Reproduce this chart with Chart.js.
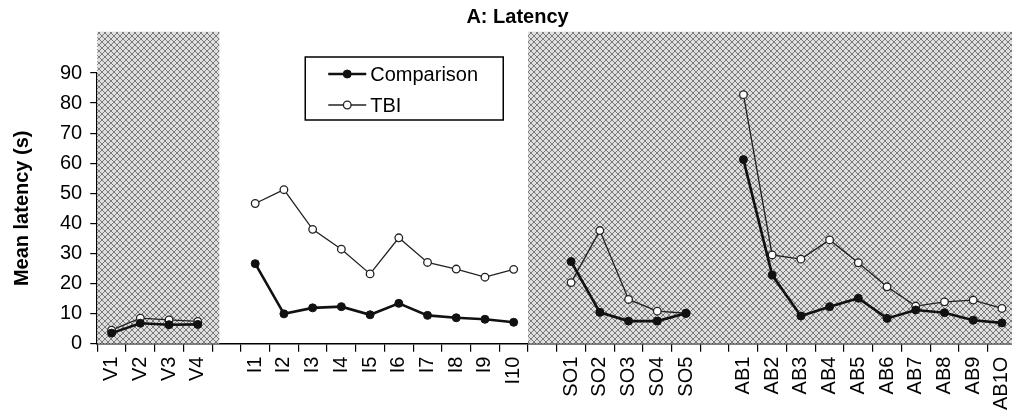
<!DOCTYPE html>
<html>
<head>
<meta charset="utf-8">
<script src="https://cdn.jsdelivr.net/npm/chart.js@4/dist/chart.umd.min.js"></script>
<style>
  html, body { margin: 0; padding: 0; background: #fff; overflow: hidden; }
  #wrap { width: 1031px; height: 417px; }
</style>
</head>
<body>
<div id="wrap"><canvas id="chart"></canvas></div>
<script>
// phase labels
const vLabels = ['V1', 'V2', 'V3', 'V4'];
const iLabels = ['I1', 'I2', 'I3', 'I4', 'I5', 'I6', 'I7', 'I8', 'I9', 'I10'];
const soLabels = ['SO1', 'SO2', 'SO3', 'SO4', 'SO5'];
const abLabels = ['AB1', 'AB2', 'AB3', 'AB4', 'AB5', 'AB6', 'AB7', 'AB8', 'AB9', 'AB1O'];

// mean latency (s)
const comparisonV = [3.5, 6.8, 6.3, 6.4];
const tbiV = [4.5, 8.5, 7.9, 7.4];
const comparisonI = [26.6, 9.9, 11.9, 12.3, 9.6, 13.4, 9.4, 8.6, 8.1, 7.1];
const tbiI = [46.6, 51.2, 38.0, 31.4, 23.2, 35.2, 27.0, 24.8, 22.1, 24.7];
const comparisonSO = [27.3, 10.4, 7.5, 7.5, 10.1];
const tbiSO = [20.3, 37.6, 14.7, 10.8, 10.1];
const comparisonAB = [61.2, 22.8, 9.2, 12.3, 15.1, 8.4, 11.2, 10.3, 7.8, 6.9];
const tbiAB = [82.8, 29.5, 28.1, 34.5, 26.9, 18.9, 12.5, 13.9, 14.5, 11.7];

// one empty slot between phases, lines break there
const labels = [...vLabels, '', ...iLabels, '', ...soLabels, '', ...abLabels];
const joinPhases = (a, b, c, d) => [...a, null, ...b, null, ...c, null, ...d];
const comparison = joinPhases(comparisonV, comparisonI, comparisonSO, comparisonAB);
const tbi = joinPhases(tbiV, tbiI, tbiSO, tbiAB);

// shaded (baseline / follow-up) blocks, in category units
const shadedBlocks = [[-0.5, 3.75], [14.5, 31.5]];

const FONT = '"Liberation Sans", Arial, Helvetica, sans-serif';
Chart.defaults.font.family = FONT;
Chart.defaults.color = '#000';

function makeHatch(ctx) {
  const c = document.createElement('canvas');
  c.width = c.height = 6;
  const g = c.getContext('2d');
  g.fillStyle = '#dedede';
  g.fillRect(0, 0, 6, 6);
  g.strokeStyle = '#7a7a7a';
  g.lineWidth = 1;
  g.beginPath();
  g.moveTo(0, 0); g.lineTo(6, 6);
  g.moveTo(6, 0); g.lineTo(0, 6);
  g.stroke();
  return ctx.createPattern(c, 'repeat');
}

const shading = {
  id: 'shading',
  beforeDatasetsDraw(chart, args, opts) {
    const { ctx, scales: { x, y } } = chart;
    const top = y.getPixelForValue(opts.topValue);
    const bottom = y.getPixelForValue(0);
    ctx.save();
    ctx.fillStyle = makeHatch(ctx);
    shadedBlocks.forEach(([a, b]) => {
      const x0 = x.getPixelForValue(a);
      const x1 = x.getPixelForValue(b);
      ctx.fillRect(x0, top, x1 - x0, bottom - top);
    });
    ctx.restore();
  }
};

const boxLegend = {
  id: 'boxLegend',
  afterDatasetsDraw(chart, args, opts) {
    const { ctx, chartArea } = chart;
    const left = chartArea.left + opts.dx;
    const top = chartArea.top + opts.dy;
    ctx.save();
    ctx.fillStyle = '#fff';
    ctx.fillRect(left, top, opts.width, opts.height);
    ctx.strokeStyle = '#000';
    ctx.lineWidth = 1.5;
    ctx.strokeRect(left, top, opts.width, opts.height);
    ctx.font = '20px ' + FONT;
    ctx.textBaseline = 'middle';
    chart.data.datasets.forEach((ds, i) => {
      const yy = top + opts.firstRow + i * opts.rowGap;
      const x0 = left + 23, x1 = left + 61;
      ctx.strokeStyle = ds.borderColor;
      ctx.lineWidth = ds.borderWidth;
      ctx.beginPath();
      ctx.moveTo(x0, yy); ctx.lineTo(x1, yy);
      ctx.stroke();
      ctx.beginPath();
      ctx.arc((x0 + x1) / 2, yy, ds.pointRadius, 0, Math.PI * 2);
      ctx.fillStyle = ds.pointBackgroundColor;
      ctx.fill();
      ctx.lineWidth = ds.pointBorderWidth;
      ctx.strokeStyle = ds.pointBorderColor;
      ctx.stroke();
      ctx.fillStyle = '#000';
      ctx.fillText(ds.label, left + 65, yy + 1);
    });
    ctx.restore();
  }
};

new Chart(document.getElementById('chart'), {
  type: 'line',
  data: {
    labels: labels,
    datasets: [{
      label: 'Comparison',
      data: comparison,
      borderColor: '#111',
      borderWidth: 2.6,
      pointRadius: 4,
      pointBackgroundColor: '#111',
      pointBorderColor: '#111',
      pointBorderWidth: 1,
      spanGaps: false,
      tension: 0
    }, {
      label: 'TBI',
      data: tbi,
      borderColor: '#222',
      borderWidth: 1.3,
      pointRadius: 3.8,
      pointBackgroundColor: '#fff',
      pointBorderColor: '#222',
      pointBorderWidth: 1.3,
      spanGaps: false,
      tension: 0
    }]
  },
  options: {
    responsive: true,
    maintainAspectRatio: false,
    animation: false,
    layout: { padding: { left: 4, right: 0, top: 0, bottom: 2 } },
    plugins: {
      legend: { display: false },
      tooltip: { enabled: false },
      title: {
        display: true,
        text: 'A: Latency',
        color: '#000',
        font: { size: 20, weight: 'bold' },
        padding: { top: 5, bottom: 44 }
      },
      shading: { topValue: 103.7 },
      boxLegend: { dx: 208, dy: -16, width: 198, height: 63, firstRow: 17, rowGap: 31 }
    },
    scales: {
      x: {
        type: 'category',
        offset: true,
        grid: { offset: true, drawOnChartArea: false, color: '#000', lineWidth: 1.2, tickLength: 8 },
        border: { color: '#000', width: 1.5 },
        ticks: { autoSkip: false, minRotation: 90, maxRotation: 90, padding: 5, font: { size: 20 }, color: '#000' }
      },
      y: {
        min: 0,
        max: 90,
        grid: { drawOnChartArea: false, color: '#000', lineWidth: 1.2, tickLength: 7 },
        border: { color: '#000', width: 1.5 },
        ticks: { stepSize: 10, padding: 8, font: { size: 20 }, color: '#000' },
        title: {
          display: true,
          text: 'Mean latency (s)',
          color: '#000',
          font: { size: 20, weight: 'bold' },
          padding: { top: 6, bottom: 18 }
        }
      }
    }
  },
  plugins: [shading, boxLegend]
});
</script>
</body>
</html>
